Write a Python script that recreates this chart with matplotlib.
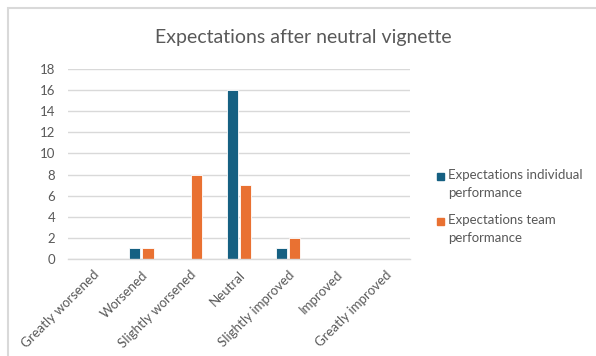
import matplotlib.pyplot as plt
import numpy as np
from matplotlib.patches import Rectangle

plt.rcParams['font.family'] = ['Lato', 'DejaVu Sans']

categories = ["Greatly worsened", "Worsened", "Slightly worsened", "Neutral",
              "Slightly improved", "Improved", "Greatly improved"]
individual = [0, 1, 0, 16, 1, 0, 0]
team = [0, 1, 8, 7, 2, 0, 0]
series_names = ["Expectations individual\nperformance",
                "Expectations team\nperformance"]

blue = "#156082"
orange = "#E97132"
grey_txt = "#595959"
grid_col = "#d9d9d9"

fig = plt.figure(figsize=(5.96, 3.56), dpi=100)
W, H = 596, 356

# outer chart border
fig.patches.append(Rectangle((8 / W, -0.1), 1.2, 1 - 8 / H + 0.1,
                             transform=fig.transFigure, fill=False,
                             edgecolor=grid_col, lw=1.5))

ax = fig.add_axes([68 / W, (H - 259) / H, (410 - 68) / W, (259 - 69) / H])

x = np.arange(len(categories))
w = 0.235
ax.bar(x - 0.135, individual, w, color=blue, edgecolor="white", lw=0.6)
ax.bar(x + 0.135, team, w, color=orange, edgecolor="white", lw=0.6)

ax.set_xlim(-0.5, len(categories) - 0.5)
ax.set_ylim(0, 18)
ax.set_yticks(range(0, 19, 2))
ax.yaxis.grid(True, color=grid_col, lw=1)
ax.set_axisbelow(True)
for s in ["top", "right", "left"]:
    ax.spines[s].set_visible(False)
ax.spines["bottom"].set_color(grid_col)
ax.spines["bottom"].set_linewidth(1)
ax.tick_params(axis="both", length=0, colors=grey_txt, labelsize=9.5)
ax.tick_params(axis="y", pad=9)
ax.set_xticks(x)
ax.set_xticklabels(categories, rotation=45, ha="right",
                   rotation_mode="anchor", fontsize=9.5)
ax.tick_params(axis="x", pad=7)

fig.text(303 / W, 1 - 37 / H, "Expectations after neutral vignette",
         ha="center", va="center", fontsize=14, color=grey_txt)

# legend: square swatch beside the first line of each wrapped label
for name, col, y0 in zip(series_names, [blue, orange], [176, 221]):
    fig.patches.append(Rectangle((437 / W, 1 - (y0 + 3.5) / H), 7 / W, 7 / H,
                                 transform=fig.transFigure, color=col))
    fig.text(448 / W, 1 - (y0 - 7) / H, name, ha="left", va="top",
             fontsize=9.5, color=grey_txt, linespacing=1.6)

fig.savefig("out.png", dpi=100)
